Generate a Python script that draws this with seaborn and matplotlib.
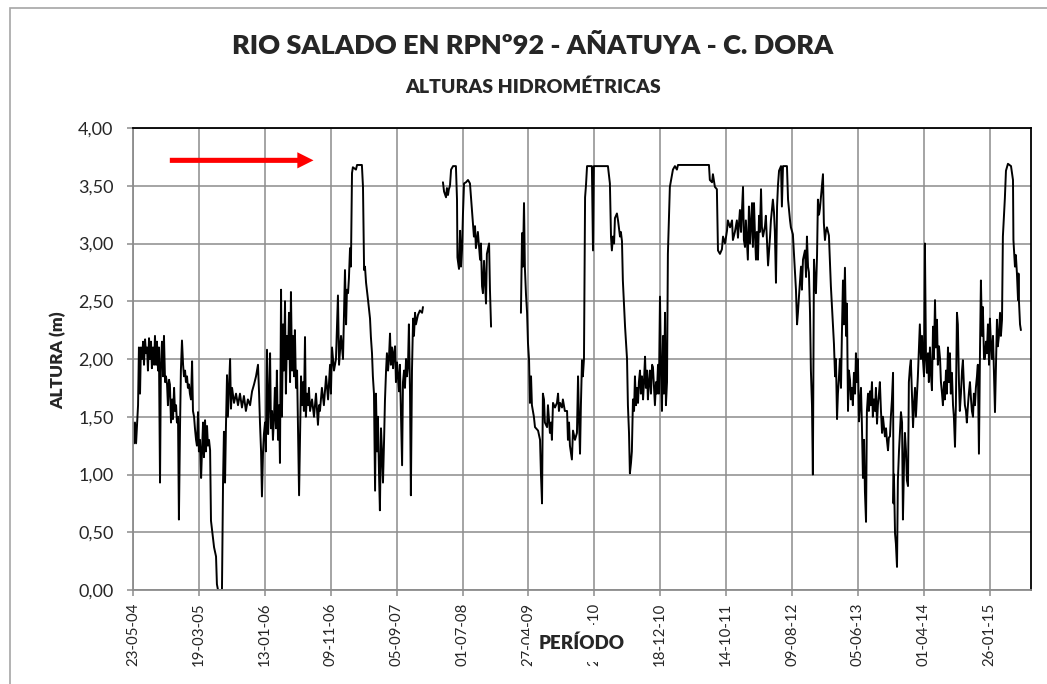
import matplotlib
matplotlib.use("Agg")
import matplotlib.pyplot as plt
import matplotlib.dates as mdates
from matplotlib.patches import FancyArrow, Rectangle
from matplotlib.ticker import FuncFormatter, MultipleLocator
import numpy as np
import pandas as pd
import seaborn as sns

# Fecha de inicio de la serie y separación de las marcas del eje X (días)
FECHA_INICIO = "2004-05-23"
PASO_TICKS = 300
N_TICKS = 14
FIN_EJE = 4088

# Tramo 1 (2004-2008): días desde el inicio y altura (m)
dias_1 = [0, 5, 9, 14, 18, 23, 27, 32, 36, 41, 46, 50, 55, 59, 64, 68, 73, 77, 82, 86,
          91, 96, 100, 105, 109, 114, 118, 123, 127, 132, 137, 141, 146, 150, 155, 159,
          164, 168, 173, 178, 182, 187, 191, 196, 200, 205, 209, 214, 218, 223, 228, 232,
          237, 241, 246, 250, 255, 259, 264, 269, 273, 278, 282, 287, 291, 296, 300, 305,
          310, 314, 319, 323, 328, 332, 337, 341, 346, 351, 355, 364, 369, 378, 382, 387,
          405, 410, 414, 419, 423, 428, 432, 442, 446, 451, 460, 469, 478, 487, 496, 505,
          514, 523, 533, 542, 551, 560, 569, 574, 578, 583, 587, 592, 596, 601, 605, 610,
          615, 619, 624, 628, 633, 637, 642, 646, 651, 655, 660, 665, 669, 674, 678, 683,
          687, 692, 696, 701, 706, 710, 715, 719, 724, 728, 733, 737, 742, 747, 751, 756,
          760, 765, 769, 774, 778, 783, 787, 792, 797, 801, 806, 815, 824, 833, 842, 847,
          851, 860, 869, 879, 888, 897, 901, 906, 915, 924, 933, 938, 947, 956, 965, 970,
          974, 979, 983, 988, 992, 997, 1001, 1015, 1020, 1042, 1047, 1052, 1056, 1061,
          1070, 1079, 1083, 1088, 1092, 1097, 1102, 1106, 1111, 1115, 1120, 1124, 1129,
          1133, 1138, 1143, 1147, 1152, 1156, 1161, 1165, 1170, 1174, 1179, 1184, 1188,
          1193, 1197, 1202, 1206, 1211, 1215, 1220, 1225, 1229, 1234, 1238, 1243, 1247,
          1252, 1256, 1261, 1265, 1270, 1275, 1279, 1284, 1288, 1297, 1306, 1316, 1320]
altura_1 = [1.45, 1.27, 1.45, 1.27, 1.42, 1.60, 2.10, 1.70, 2.10, 2.00, 2.15, 1.95, 2.17,
            2.05, 2.10, 1.90, 2.18, 2.00, 2.15, 1.92, 2.10, 1.95, 2.20, 1.95, 2.15, 1.90,
            2.10, 0.93, 1.95, 2.15, 1.85, 2.20, 1.80, 1.85, 1.78, 1.60, 1.82, 1.78, 1.45,
            1.65, 1.48, 1.75, 1.55, 1.60, 1.45, 1.50, 0.61, 1.40, 1.90, 2.16, 1.95, 1.85,
            1.90, 1.80, 1.85, 1.75, 1.78, 1.70, 1.65, 1.98, 1.55, 1.50, 1.40, 1.30, 1.25,
            1.54, 1.20, 1.30, 0.97, 1.20, 1.45, 1.15, 1.47, 1.20, 1.42, 1.25, 1.30, 1.21,
            0.60, 0.45, 0.37, 0.29, 0.05, 0.00, 0.00, 0.95, 1.37, 0.93, 1.40, 1.86, 1.50,
            2.00, 1.57, 1.75, 1.62, 1.70, 1.60, 1.70, 1.58, 1.68, 1.55, 1.65, 1.60, 1.72,
            1.78, 1.85, 1.95, 1.70, 1.45, 1.20, 0.81, 1.20, 1.35, 1.45, 1.20, 2.08, 1.35,
            1.60, 2.05, 1.40, 1.55, 1.30, 1.50, 1.75, 1.40, 1.90, 1.30, 1.60, 1.10, 2.60,
            1.50, 2.30, 1.90, 2.50, 1.70, 2.20, 2.00, 2.40, 1.80, 2.58, 1.90, 2.20, 1.85,
            2.25, 1.75, 1.90, 1.40, 0.82, 1.30, 1.85, 1.60, 1.80, 1.55, 2.19, 1.50, 1.70,
            1.60, 1.75, 1.55, 1.65, 1.50, 1.70, 1.43, 1.60, 1.55, 1.75, 1.60, 1.85, 1.65,
            1.95, 1.70, 2.10, 1.90, 2.00, 2.55, 1.95, 2.20, 2.00, 2.77, 2.30, 2.60, 2.57,
            2.70, 2.96, 2.80, 3.61, 3.66, 3.64, 3.68, 3.68, 3.49, 2.77, 2.80, 2.66, 2.51,
            2.35, 2.19, 2.05, 1.85, 1.70, 0.86, 1.70, 1.20, 1.50, 1.00, 0.69, 1.40, 1.22,
            0.93, 1.30, 1.64, 1.90, 2.05, 1.90, 2.00, 2.22, 1.95, 2.10, 1.92, 2.05, 2.11,
            1.80, 1.97, 1.85, 1.72, 1.95, 1.50, 1.08, 1.80, 1.90, 1.75, 2.00, 1.85, 1.95,
            2.30, 1.72, 0.82, 1.90, 2.35, 2.20, 2.40, 2.30, 2.38, 2.42, 2.40, 2.45]

# Tramo 2 (2008)
dias_2 = [1411, 1416, 1425, 1429, 1434, 1438, 1443, 1448, 1457, 1470, 1475, 1477, 1479,
          1484, 1489, 1493, 1498, 1502, 1507, 1516, 1525, 1534, 1543, 1552, 1557, 1561,
          1570, 1580, 1584, 1589, 1593, 1598, 1607, 1611, 1621, 1625, 1630]
altura_2 = [3.53, 3.45, 3.40, 3.48, 3.42, 3.47, 3.50, 3.64, 3.67, 3.67, 3.38, 2.88, 2.85,
            2.78, 3.11, 2.80, 2.95, 3.25, 3.52, 3.53, 3.55, 3.52, 3.29, 3.06, 3.15, 2.96,
            3.10, 2.86, 3.00, 2.63, 2.57, 2.85, 2.48, 2.91, 3.00, 2.60, 2.28]

# Tramo 3 (2009-2015)
dias_3 = [1766, 1771, 1775, 1780, 1784, 1789, 1794, 1798, 1803, 1807, 1812, 1816, 1825,
          1830, 1844, 1853, 1857, 1862, 1866, 1871, 1875, 1885, 1889, 1898, 1903, 1907,
          1912, 1921, 1930, 1935, 1939, 1944, 1953, 1957, 1966, 1976, 1980, 1985, 1989,
          1998, 2003, 2012, 2021, 2026, 2030, 2035, 2039, 2044, 2048, 2053, 2058, 2062,
          2067, 2089, 2094, 2098, 2162, 2171, 2176, 2180, 2185, 2190, 2194, 2203, 2208,
          2217, 2221, 2226, 2230, 2240, 2249, 2253, 2258, 2262, 2267, 2271, 2276, 2281,
          2285, 2290, 2294, 2299, 2303, 2308, 2312, 2317, 2322, 2326, 2331, 2335, 2340,
          2344, 2349, 2353, 2358, 2363, 2367, 2372, 2376, 2381, 2385, 2390, 2394, 2399,
          2404, 2408, 2413, 2417, 2422, 2426, 2431, 2435, 2444, 2458, 2467, 2476, 2481,
          2622, 2626, 2636, 2640, 2649, 2658, 2663, 2672, 2681, 2686, 2695, 2704, 2708,
          2718, 2727, 2731, 2740, 2749, 2754, 2763, 2768, 2777, 2781, 2786, 2790, 2799,
          2804, 2809, 2818, 2822, 2827, 2831, 2836, 2840, 2845, 2850, 2854, 2859, 2863,
          2868, 2877, 2881, 2886, 2891, 2900, 2904, 2913, 2918, 2922, 2927, 2932, 2936,
          2941, 2950, 2954, 2959, 2977, 2982, 2991, 2995, 3004, 3009, 3018, 3023, 3027,
          3032, 3041, 3045, 3050, 3059, 3064, 3068, 3073, 3077, 3082, 3086, 3091, 3095,
          3100, 3104, 3109, 3114, 3118, 3123, 3127, 3136, 3141, 3145, 3150, 3154, 3159,
          3168, 3177, 3186, 3191, 3196, 3200, 3205, 3209, 3214, 3218, 3223, 3227, 3232,
          3236, 3241, 3246, 3250, 3255, 3259, 3264, 3268, 3273, 3277, 3282, 3287, 3291,
          3296, 3300, 3305, 3309, 3314, 3318, 3323, 3328, 3332, 3337, 3341, 3346, 3350,
          3355, 3359, 3364, 3368, 3373, 3378, 3382, 3387, 3391, 3396, 3400, 3405, 3410,
          3414, 3419, 3423, 3428, 3432, 3437, 3441, 3446, 3450, 3455, 3460, 3462, 3464,
          3469, 3473, 3478, 3482, 3487, 3491, 3496, 3501, 3505, 3510, 3514, 3519, 3523,
          3528, 3532, 3537, 3541, 3546, 3551, 3555, 3560, 3564, 3569, 3573, 3578, 3582,
          3587, 3592, 3596, 3601, 3605, 3610, 3614, 3619, 3623, 3628, 3633, 3637, 3642,
          3646, 3651, 3655, 3660, 3664, 3669, 3674, 3678, 3683, 3687, 3692, 3696, 3701,
          3705, 3710, 3714, 3719, 3723, 3728, 3733, 3737, 3742, 3746, 3751, 3755, 3760,
          3764, 3769, 3774, 3778, 3783, 3787, 3792, 3796, 3801, 3805, 3810, 3815, 3819,
          3824, 3828, 3833, 3837, 3842, 3846, 3851, 3856, 3860, 3865, 3869, 3874, 3878,
          3883, 3887, 3892, 3897, 3901, 3906, 3910, 3915, 3919, 3924, 3928, 3933, 3937,
          3942, 3947, 3951, 3956, 3960, 3969, 3974, 3983, 3997, 4006, 4008, 4015, 4019,
          4024, 4029, 4031, 4033, 4038, 4042]
altura_3 = [2.40, 3.09, 2.80, 3.35, 2.79, 2.56, 2.40, 2.14, 1.99, 1.62, 1.85, 1.60, 1.50,
            1.41, 1.38, 1.30, 1.01, 0.75, 1.70, 1.65, 1.45, 1.41, 1.60, 1.36, 1.45, 1.30,
            1.62, 1.58, 1.62, 1.70, 1.55, 1.62, 1.58, 1.65, 1.55, 1.55, 1.30, 1.45, 1.25,
            1.13, 1.38, 1.30, 1.36, 1.85, 1.50, 1.18, 1.60, 1.99, 1.85, 2.00, 3.40, 3.50,
            3.67, 3.67, 2.94, 3.67, 3.67, 3.52, 3.06, 2.94, 3.06, 3.00, 3.22, 3.26, 3.20,
            3.06, 3.10, 3.02, 2.68, 2.28, 2.00, 1.60, 1.36, 1.01, 1.10, 1.20, 1.65, 1.55,
            1.85, 1.60, 1.75, 1.62, 1.80, 1.90, 1.70, 1.85, 1.65, 1.80, 2.02, 1.75, 1.90,
            1.65, 1.80, 1.90, 1.70, 1.95, 1.93, 1.75, 1.60, 1.80, 1.70, 1.95, 1.70, 2.54,
            1.85, 1.55, 2.20, 1.70, 2.40, 1.60, 1.80, 2.91, 3.49, 3.64, 3.67, 3.64, 3.68,
            3.68, 3.55, 3.53, 3.60, 3.49, 3.47, 2.94, 2.91, 2.95, 3.06, 3.00, 3.11, 3.20,
            3.14, 3.20, 3.03, 3.10, 3.20, 3.05, 3.29, 3.10, 3.49, 3.03, 2.97, 3.20, 2.86,
            3.32, 3.00, 3.35, 2.97, 3.35, 3.10, 2.86, 3.10, 2.86, 3.24, 3.10, 3.47, 3.14,
            3.06, 3.15, 3.24, 3.03, 2.81, 3.06, 3.20, 3.38, 3.27, 3.10, 2.66, 3.32, 3.50,
            3.63, 3.67, 3.32, 3.67, 3.67, 3.38, 3.20, 3.14, 3.08, 2.91, 2.60, 2.30, 2.40,
            2.55, 2.80, 2.60, 2.86, 2.94, 2.71, 3.06, 2.80, 2.75, 2.40, 1.90, 1.60, 1.00,
            2.86, 2.70, 2.57, 2.90, 3.38, 3.25, 3.30, 3.49, 3.60, 3.18, 3.03, 3.10, 3.14,
            3.07, 2.63, 2.30, 2.13, 1.85, 2.00, 1.48, 1.70, 1.85, 2.00, 1.75, 2.20, 2.68,
            2.30, 2.79, 2.20, 2.48, 1.55, 1.90, 1.82, 1.65, 1.75, 1.60, 1.88, 1.70, 2.05,
            1.80, 2.00, 1.46, 1.60, 1.75, 1.45, 0.97, 1.30, 0.85, 0.59, 1.55, 1.70, 1.55,
            1.72, 1.60, 1.80, 1.50, 1.65, 1.55, 1.75, 1.44, 1.60, 1.70, 1.80, 1.55, 1.36,
            1.50, 1.40, 1.33, 1.40, 1.30, 1.21, 1.32, 1.33, 1.50, 1.65, 1.88, 0.75, 1.00,
            0.49, 0.40, 0.20, 0.95, 1.20, 1.35, 1.54, 1.45, 0.61, 1.10, 1.36, 1.20, 0.95,
            0.90, 1.80, 1.93, 1.99, 1.70, 1.41, 1.60, 1.75, 1.50, 1.70, 1.85, 2.10, 2.30,
            2.00, 2.20, 2.00, 1.85, 3.00, 2.00, 1.88, 2.05, 1.80, 2.10, 1.85, 1.73, 2.28,
            2.00, 2.51, 2.10, 2.34, 1.95, 2.11, 2.00, 1.80, 1.70, 1.60, 1.80, 1.65, 1.90,
            1.70, 2.10, 1.80, 2.05, 1.70, 1.88, 1.60, 1.50, 1.24, 1.60, 2.40, 2.30, 1.80,
            1.55, 1.70, 1.90, 1.99, 1.75, 1.60, 1.55, 1.45, 1.60, 1.70, 1.80, 1.65, 1.55,
            1.50, 1.70, 1.60, 1.75, 1.85, 1.95, 1.18, 2.10, 2.68, 2.20, 2.45, 2.00, 2.00,
            2.15, 2.05, 2.30, 1.95, 2.35, 2.10, 2.00, 2.20, 1.90, 1.54, 1.90, 2.34, 2.11,
            2.20, 2.40, 2.20, 2.34, 3.06, 3.39, 3.63, 3.69, 3.67, 3.55, 3.03, 2.80, 2.90,
            2.74, 2.51, 2.74, 2.51, 2.30, 2.25]

inicio = pd.Timestamp(FECHA_INICIO)
tramos = []
for n, (d, h) in enumerate([(dias_1, altura_1), (dias_2, altura_2), (dias_3, altura_3)]):
    tramos.append(pd.DataFrame({
        "fecha": inicio + pd.to_timedelta(d, unit="D"),
        "altura": h,
        "tramo": n,
    }))
df = pd.concat(tramos, ignore_index=True)

sns.set_style("white")
plt.rcParams["font.family"] = ["Lato", "DejaVu Sans"]

fig = plt.figure(figsize=(10.47, 6.84), dpi=100)
ax = fig.add_axes([133 / 1047, 1 - 590 / 684, 898 / 1047, 462 / 684])

# borde del área del gráfico
fig.add_artist(Rectangle((10 / 1047, -0.1), 1.2, 1 - 8 / 684 + 0.1, transform=fig.transFigure,
                         fill=False, edgecolor="#a6a6a6", linewidth=1.2))

sns.lineplot(data=df, x="fecha", y="altura", units="tramo", estimator=None, sort=False,
             color="black", linewidth=1.4, ax=ax, legend=False)

ticks = [inicio + pd.Timedelta(days=PASO_TICKS * i) for i in range(N_TICKS)]
ax.set_xlim(inicio, inicio + pd.Timedelta(days=FIN_EJE))
ax.set_xticks(ticks)
ax.xaxis.set_major_formatter(mdates.DateFormatter("%d-%m-%y"))
ax.set_ylim(0, 4)
ax.yaxis.set_major_locator(MultipleLocator(0.5))
ax.yaxis.set_major_formatter(FuncFormatter(lambda v, p: f"{v:.2f}".replace(".", ",")))

ax.grid(True, color="#8c8c8c", linewidth=1.1)
ax.set_axisbelow(True)
for side in ["top", "right"]:
    ax.spines[side].set_color("black")
    ax.spines[side].set_linewidth(1.3)
for side in ["left", "bottom"]:
    ax.spines[side].set_color("#8c8c8c")
    ax.spines[side].set_linewidth(1.3)
ax.tick_params(axis="x", labelrotation=90, labelsize=10.8, length=4, width=1.1,
               color="#8c8c8c", pad=5, bottom=True)
ax.tick_params(axis="y", labelsize=13, length=4, width=1.1, color="#8c8c8c", pad=10, left=True)
ax.set_xlabel("")
ax.set_ylabel("")

# flecha roja
ax.add_patch(FancyArrow(0.041, 0.93, 0.16, 0, width=0.011, head_width=0.035, head_length=0.018,
                        length_includes_head=True, transform=ax.transAxes, color="#ff0000",
                        linewidth=0, zorder=5))

fig.text(533 / 1047, 1 - 46 / 684, "RIO SALADO EN RPNº92 - AÑATUYA - C. DORA",
         ha="center", va="center", fontsize=19.5, fontweight="heavy")
fig.text(533 / 1047, 1 - 87 / 684, "ALTURAS HIDROMÉTRICAS",
         ha="center", va="center", fontsize=14, fontweight="heavy")
fig.text(58 / 1047, 1 - 360 / 684, "ALTURA (m)", rotation=90,
         ha="center", va="center", fontsize=12.5, fontweight="heavy")
fig.text(582 / 1047, 1 - 643 / 684, "PERÍODO", ha="center", va="center",
         fontsize=13.5, fontweight="heavy", zorder=10,
         bbox=dict(facecolor="white", edgecolor="none", pad=7))

fig.savefig("out.png", dpi=100)
